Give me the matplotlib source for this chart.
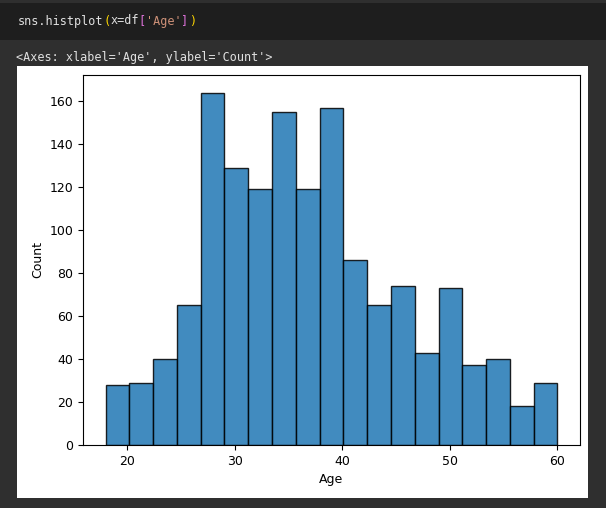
import numpy as np
import matplotlib
matplotlib.use("Agg")
import matplotlib.pyplot as plt
from matplotlib.patches import Rectangle

# histogram of Age, 19 bins between 18 and 60
age_min = 18
age_max = 60
counts = [28, 29, 40, 65, 164, 129, 119, 155, 119, 157,
          86, 65, 74, 43, 73, 37, 40, 18, 29]
x_ticks = [20, 30, 40, 50, 60]
y_ticks = [0, 20, 40, 60, 80, 100, 120, 140, 160]

code_parts = [("sns.histplot", "#e0e0e0"), ("(", "#ffd700"), ("x=df", "#e0e0e0"),
              ("[", "#da70d6"), ("'Age'", "#ce9178"), ("]", "#da70d6"), (")", "#ffd700")]
out_text = "<Axes: xlabel='Age', ylabel='Count'>"

edges = np.linspace(age_min, age_max, len(counts) + 1)

fig = plt.figure(figsize=(6.06, 5.08), dpi=100)
fig.patch.set_facecolor("#2f2f2f")

# notebook bits around the plot
fig.patches.append(Rectangle((0, 1 - 40 / 508), 1, 37 / 508, transform=fig.transFigure,
                             facecolor="#1e1e1e", edgecolor="none", zorder=-2))
fig.patches.append(Rectangle((17 / 606, 10 / 508), 571 / 606, 432 / 508, transform=fig.transFigure,
                             facecolor="white", edgecolor="none", zorder=-2))

mono_fs = 8.5
char_w = 0.602 * mono_fs * 100 / 72  # DejaVu Sans Mono advance, px
x = 18 / 606
for txt, col in code_parts:
    fig.text(x, 1 - 21 / 508, txt, color=col, family="DejaVu Sans Mono",
             fontsize=mono_fs, va="center", ha="left")
    x += len(txt) * char_w / 606
fig.text(16 / 606, 1 - 57 / 508, out_text, color="#e0e0e0", family="DejaVu Sans Mono",
         fontsize=mono_fs, va="center", ha="left")

ax = fig.add_axes([83 / 606, 63 / 508, 497 / 606, 370 / 508])
ax.set_zorder(2)
ax.set_facecolor("white")
ax.bar(edges[:-1], counts, width=np.diff(edges), align="edge",
       facecolor="#1f77b4", alpha=0.85, edgecolor="black", linewidth=1)
ax.set_xticks(x_ticks)
ax.set_yticks(y_ticks)
ax.tick_params(labelsize=9)
ax.set_xlabel("Age", fontsize=9)
ax.set_ylabel("Count", fontsize=9)

fig.savefig("out.png", dpi=100, facecolor=fig.get_facecolor())
